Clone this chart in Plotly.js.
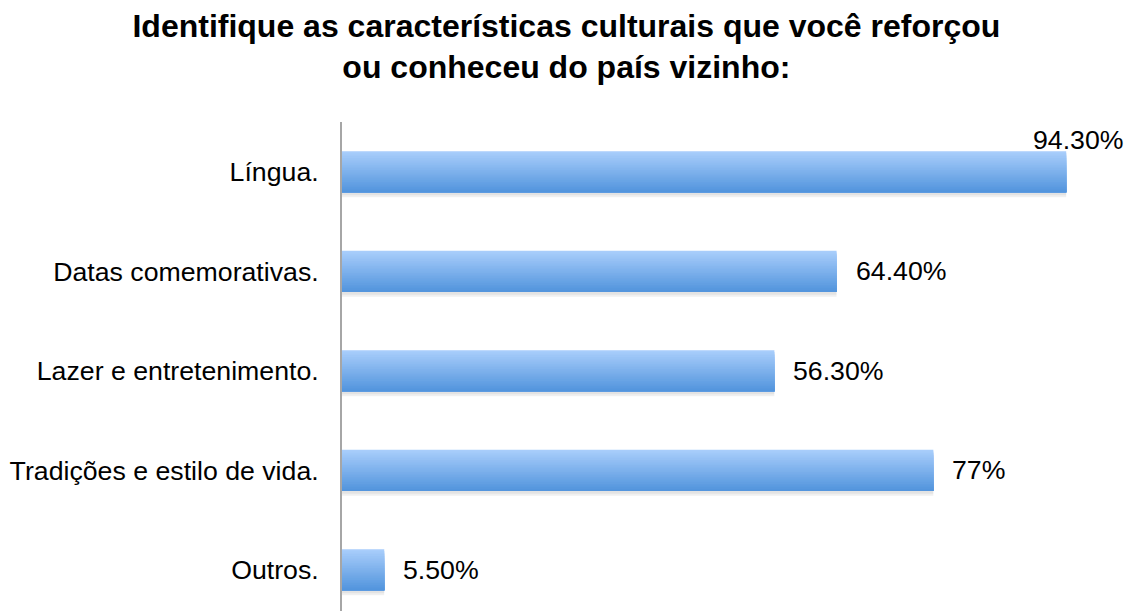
<!DOCTYPE html>
<html>
<head>
<meta charset="utf-8">
<script src="https://cdn.plot.ly/plotly-3.0.1.min.js"></script>
<style>html,body{margin:0;padding:0;background:#fff;}#chart{width:1126px;height:611px;}</style>
</head>
<body>
<div id="chart"></div>
<script>
const categories = ["Língua.", "Datas comemorativas.", "Lazer e entretenimento.", "Tradições e estilo de vida.", "Outros."];
const values = [94.3, 64.4, 56.3, 77, 5.5];
const valueLabels = ["94.30%", "64.40%", "56.30%", "77%", "5.50%"];
const titleText = "Identifique as características culturais que você reforçou<br>ou conheceu do país vizinho:";

const FONT = "Liberation Sans, Arial, Helvetica, sans-serif";
const BAR_W = 0.412;
const N = 24;
const topColor = [168, 205, 251];
const botColor = [83, 149, 221];

const traces = [];
// soft shadow under bars
[[0.05, 0.06], [0.03, 0.05]].forEach(([off, a]) => {
  traces.push({
    type: "bar", orientation: "h", y: categories, x: values,
    width: BAR_W, offset: -BAR_W / 2 + off,
    marker: {color: "rgba(0,0,0," + a + ")", line: {width: 0}},
    hoverinfo: "skip", showlegend: false
  });
});
// gradient built from stacked overlay slices
for (let i = 0; i < N; i++) {
  const t = i / (N - 1);
  const c = topColor.map((v, k) => Math.round(v + (botColor[k] - v) * t));
  traces.push({
    type: "bar", orientation: "h", y: categories, x: values,
    width: BAR_W - i * BAR_W / N, offset: -BAR_W / 2 + i * BAR_W / N,
    marker: {color: "rgb(" + c.join(",") + ")", line: {width: 0}},
    hoverinfo: "skip", showlegend: false
  });
}

const annotations = categories.map((c, i) => {
  const first = i === 0;
  return {
    x: values[i], y: c, xref: "x", yref: "y",
    text: valueLabels[i], showarrow: false,
    xanchor: first ? "center" : "left",
    xshift: first ? 12 : 17,
    yshift: first ? 32 : 0,
    font: {family: FONT, size: 26.7, color: "#000"}
  };
});

const layout = {
  width: 1126, height: 611,
  margin: {l: 342, r: 16, t: 122, b: 0},
  paper_bgcolor: "#fff", plot_bgcolor: "#fff",
  barmode: "overlay",
  showlegend: false,
  title: {
    text: titleText,
    font: {family: FONT, size: 32, color: "#000", weight: "bold"},
    x: 0.503, xref: "container", xanchor: "center",
    y: 0.9402, yref: "container", yanchor: "middle"
  },
  xaxis: {range: [0, 100], visible: false, fixedrange: true},
  yaxis: {
    type: "category", categoryarray: categories, categoryorder: "array",
    range: [4.415, -0.5],
    showline: true, linecolor: "#a6a6a6", linewidth: 2,
    showgrid: false, zeroline: false, ticks: "",
    ticklabelstandoff: 16,
    tickfont: {family: FONT, size: 26.7, color: "#000"}
  },
  annotations: annotations
};

Plotly.newPlot("chart", traces, layout, {displayModeBar: false, staticPlot: true});
</script>
</body>
</html>
